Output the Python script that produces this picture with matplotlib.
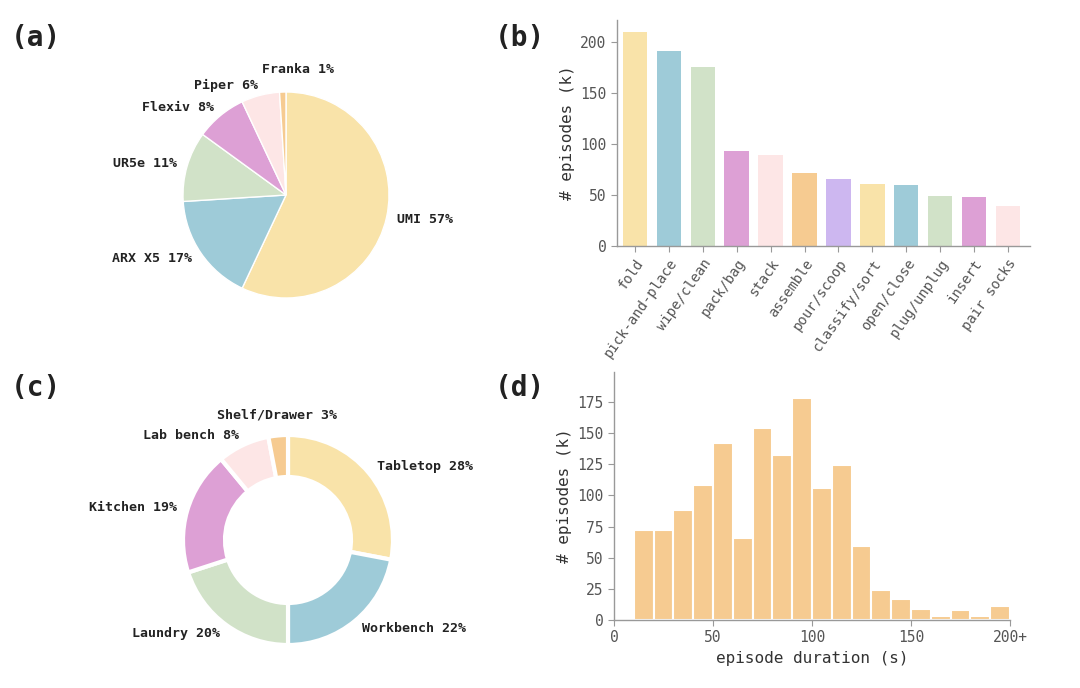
import matplotlib
matplotlib.use("Agg")
import matplotlib.pyplot as plt
import numpy as np

PALETTE = ["#F9E3A9", "#9ECBD8", "#D1E2C8", "#DDA0D5", "#FDE6E6", "#F6CB91", "#CDB7F0"]

# (a) robot platforms
robots = ["UMI", "ARX X5", "UR5e", "Flexiv", "Piper", "Franka"]
robot_share = [57, 17, 11, 8, 6, 1]

# (b) task categories
tasks = ["fold", "pick-and-place", "wipe/clean", "pack/bag", "stack", "assemble",
         "pour/scoop", "classify/sort", "open/close", "plug/unplug", "insert", "pair socks"]
task_episodes = [210, 192, 176, 93, 89, 72, 66, 61, 60, 49, 48, 39]

# (c) scenes
scenes = ["Tabletop", "Workbench", "Laundry", "Kitchen", "Lab bench", "Shelf/Drawer"]
scene_share = [28, 22, 20, 19, 8, 3]

# (d) episode duration histogram, 10 s bins from 10 to 200+
bin_starts = list(range(10, 200, 10))
duration_counts = [72, 72, 88, 108, 142, 66, 154, 132, 178, 106, 124, 59,
                   24, 17, 9, 3.5, 8, 3.5, 11]

MONO = "DejaVu Sans Mono"
plt.rcParams["font.family"] = [MONO, "DejaVu Sans"]
TICK_C = "#555555"
SPINE_C = "#999999"

fig = plt.figure(figsize=(10.8, 6.88), dpi=100)


def pie_axes(cx, cy, r, half=150):
    ax = fig.add_axes([(cx - half) / 1080, (688 - cy - half) / 688, 2 * half / 1080, 2 * half / 688])
    lim = half / r
    return ax, lim


def style_axes(ax):
    for s in ["top", "right"]:
        ax.spines[s].set_visible(False)
    for s in ["left", "bottom"]:
        ax.spines[s].set_color(SPINE_C)
        ax.spines[s].set_linewidth(1.0)
    ax.tick_params(colors=SPINE_C, labelcolor=TICK_C, labelsize=10.5, length=4)


# (a)
ax_a, lim = pie_axes(286, 195, 103)
wedges, texts = ax_a.pie(robot_share, labels=[f"{n} {v}%" for n, v in zip(robots, robot_share)],
                         colors=PALETTE[:len(robots)], startangle=90, counterclock=False,
                         labeldistance=1.1, wedgeprops=dict(edgecolor="white", linewidth=1),
                         textprops=dict(fontsize=9.5, fontweight="bold", color="#222222"))
x, y = texts[-1].get_position()
texts[-1].set_position((x + 0.15, y + 0.12))
texts[-1].set_ha("center")
ax_a.set_xlim(-lim, lim)
ax_a.set_ylim(-lim, lim)

# (c)
ax_c, lim = pie_axes(288, 540, 105)
wedges, texts = ax_c.pie(scene_share, labels=[f"{n} {v}%" for n, v in zip(scenes, scene_share)],
                         colors=PALETTE[:len(scenes)], startangle=90,
                         counterclock=False, labeldistance=1.1,
                         wedgeprops=dict(width=0.4, edgecolor="white", linewidth=3),
                         textprops=dict(fontsize=9.5, fontweight="bold", color="#222222"))
x, y = texts[-1].get_position()
texts[-1].set_position((x, y + 0.1))
texts[-1].set_ha("center")
ax_c.set_xlim(-lim, lim)
ax_c.set_ylim(-lim, lim)

# (b)
ax_b = fig.add_axes([617 / 1080, 1 - 246 / 688, 413 / 1080, 226 / 688])
xs = np.arange(len(tasks))
ax_b.bar(xs, task_episodes, width=0.72,
         color=[PALETTE[i % len(PALETTE)] for i in range(len(tasks))])
ax_b.set_xlim(-0.53, len(tasks) - 0.35)
ax_b.set_ylim(0, 222)
ax_b.set_yticks([0, 50, 100, 150, 200])
ax_b.set_xticks(xs)
ax_b.set_ylabel("# episodes (k)", fontsize=11.5, color="#333333")
style_axes(ax_b)
ax_b.set_xticklabels(tasks, rotation=55, ha="right", rotation_mode="anchor", fontsize=10)

# (d)
ax_d = fig.add_axes([614 / 1080, 1 - 620 / 688, 396 / 1080, 248 / 688])
ax_d.bar(bin_starts, duration_counts, width=10, align="edge", color="#F6CB91",
         edgecolor="white", linewidth=1.5)
ax_d.set_xlim(0, 200)
ax_d.set_ylim(0, 199)
ax_d.set_yticks([0, 25, 50, 75, 100, 125, 150, 175])
ax_d.set_xticks([0, 50, 100, 150, 200])
ax_d.set_xticklabels(["0", "50", "100", "150", "200+"])
ax_d.set_ylabel("# episodes (k)", fontsize=11.5, color="#333333")
ax_d.set_xlabel("episode duration (s)", fontsize=11.5, color="#333333")
style_axes(ax_d)

for lab, (fx, fy) in zip(["(a)", "(b)", "(c)", "(d)"],
                         [(0.010, 0.945), (0.458, 0.945), (0.010, 0.436), (0.458, 0.436)]):
    fig.text(fx, fy, lab, fontsize=20, fontweight="bold", va="center", ha="left", color="#222222")

fig.savefig("out.png", dpi=100, facecolor="white")
